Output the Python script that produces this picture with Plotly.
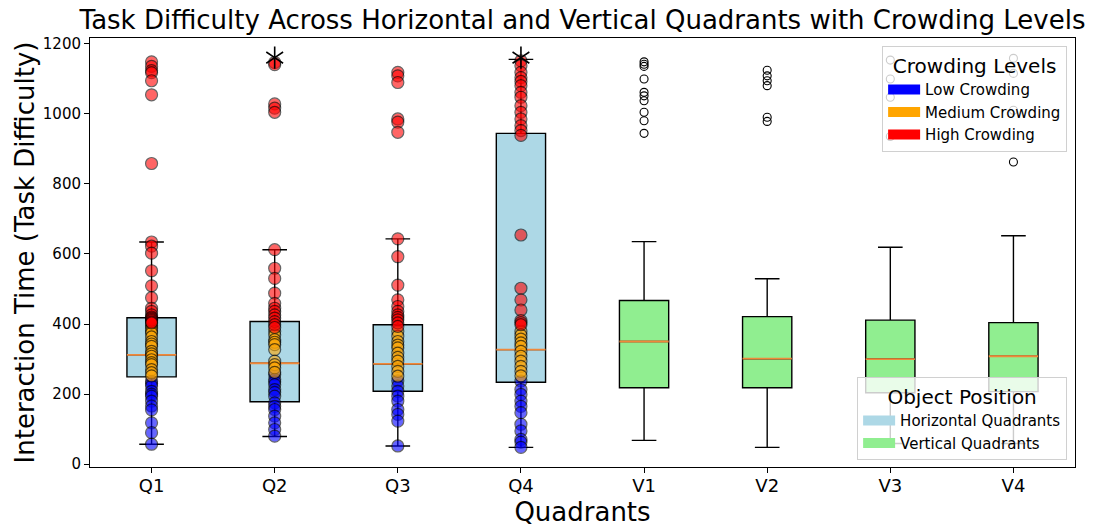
import plotly.graph_objects as go

# ---------------- data ----------------
categories = ["Q1", "Q2", "Q3", "Q4", "V1", "V2", "V3", "V4"]
positions = [1, 2, 3, 4, 5, 6, 7, 8]

box_q1 = [249, 178, 208, 234, 218, 218, 204, 207]
box_median = [312, 288, 286, 327, 350, 301, 300, 308]
box_q3 = [418, 407, 398, 944, 467, 421, 411, 404]
whisker_low = [57, 79, 52, 48, 68, 48, 59, 59]
whisker_high = [634, 612, 643, 1155, 635, 529, 619, 652]

# outliers (open circles) of the vertical quadrants
fliers_v1 = [1148, 1141, 1135, 1099, 1061, 1051, 1037, 1004, 980, 944]
fliers_v2 = [1124, 1108, 1094, 1080, 990, 978]
fliers_v3 = [1153, 1099, 1047, 935]
fliers_v4 = [1158, 1115, 1010, 862]

# individual observations in the horizontal quadrants, by crowding level
q1_low = [237, 230, 223, 208, 200, 194, 180, 166, 155, 118, 90, 57]
q1_medium = [395, 388, 380, 374, 363, 350, 343, 336, 322, 315, 308, 298, 290, 284, 270, 261, 252]
q1_high = [1148, 1135, 1123, 1117, 1094, 1054, 858, 634, 622, 602, 552, 509, 475, 445,
           436, 426, 420, 417, 413, 410, 406, 403]

q2_low = [256, 242, 235, 227, 213, 205, 194, 175, 165, 156, 137, 118, 99, 80]
q2_medium = [379, 369, 355, 348, 341, 327, 294, 284, 275, 262]
q2_high = [1146, 1140, 1028, 1016, 1004, 612, 559, 530, 488, 459, 445, 436, 426, 417,
           407, 398, 390]

q3_low = [238, 223, 208, 194, 180, 156, 142, 123, 52]
q3_medium = [379, 365, 350, 340, 332, 317, 305, 294, 279, 265, 251]
q3_high = [1118, 1108, 1089, 985, 976, 947, 643, 592, 511, 469, 450, 436, 426, 419,
           412, 403, 393]

q4_low = [237, 213, 199, 180, 165, 147, 114, 95, 71, 63, 48]
q4_medium = [379, 368, 357, 346, 336, 322, 308, 294, 279, 265, 252]
q4_high = [1151, 1137, 1118, 1103, 1092, 1080, 1061, 1047, 1023, 1004, 985, 966, 952,
           938, 654, 502, 469, 440, 410, 404, 398]

# significance markers
star_x = [2, 4]
star_y = [1160, 1160]

crowding_names = ["Low Crowding", "Medium Crowding", "High Crowding"]
crowding_colors = ["#0000ff", "#ffa500", "#ff0000"]
position_names = ["Horizontal Quadrants", "Vertical Quadrants"]
position_colors = ["#add8e6", "#90ee90"]

# ---------------- figure ----------------
fig = go.Figure()

BOX_W = 0.4
for sl, col in [(slice(0, 4), position_colors[0]), (slice(4, 8), position_colors[1])]:
    fig.add_trace(go.Box(
        x=positions[sl], q1=box_q1[sl], median=box_median[sl], q3=box_q3[sl],
        lowerfence=whisker_low[sl], upperfence=whisker_high[sl],
        fillcolor=col, line=dict(color="black", width=1.4),
        width=BOX_W, whiskerwidth=0.5, boxpoints=False,
        showlegend=False, hoverinfo="skip",
    ))

# medians in orange
mx, my = [], []
for p, m in zip(positions, box_median):
    mx += [p - BOX_W / 2, p + BOX_W / 2, None]
    my += [m, m, None]
fig.add_trace(go.Scatter(x=mx, y=my, mode="lines", line=dict(color="#f0883a", width=1.8),
                         showlegend=False, hoverinfo="skip"))

# fliers of vertical quadrants
fx, fy = [], []
for p, fl in zip(positions[4:], [fliers_v1, fliers_v2, fliers_v3, fliers_v4]):
    fx += [p] * len(fl)
    fy += fl
fig.add_trace(go.Scatter(x=fx, y=fy, mode="markers",
                         marker=dict(symbol="circle-open", size=8, color="black",
                                     line=dict(width=1.1)),
                         showlegend=False, hoverinfo="skip"))

# scatter of observations
groups = [
    (q1_low, q1_medium, q1_high),
    (q2_low, q2_medium, q2_high),
    (q3_low, q3_medium, q3_high),
    (q4_low, q4_medium, q4_high),
]
for level in range(3):
    sx, sy = [], []
    for p, g in zip(positions[:4], groups):
        sx += [p] * len(g[level])
        sy += g[level]
    fig.add_trace(go.Scatter(
        x=sx, y=sy, mode="markers",
        marker=dict(size=12, color=crowding_colors[level], opacity=0.6,
                    line=dict(color="black", width=1.2)),
        showlegend=False, hoverinfo="skip"))

# stars
for sym in ["y-up-open", "y-down-open"]:
    fig.add_trace(go.Scatter(x=star_x, y=star_y, mode="markers",
                             marker=dict(symbol=sym, size=14, color="black",
                                         line=dict(color="black", width=1.6)),
                             showlegend=False, hoverinfo="skip"))

# legend entries
for name, col in zip(crowding_names, crowding_colors):
    fig.add_trace(go.Scatter(x=[None], y=[None], mode="lines", name=name,
                             line=dict(color=col, width=12), legend="legend"))
for name, col in zip(position_names, position_colors):
    fig.add_trace(go.Scatter(x=[None], y=[None], mode="lines", name=name,
                             line=dict(color=col, width=12), legend="legend2"))

axis_common = dict(showline=True, mirror=True, linecolor="black", linewidth=1,
                   ticks="outside", ticklen=5, tickcolor="black", showgrid=False,
                   zeroline=False, automargin=False)

fig.update_layout(
    width=1095, height=527,
    margin=dict(l=90, r=20, t=38, b=60),
    plot_bgcolor="white", paper_bgcolor="white",
    font=dict(family="DejaVu Sans", color="black"),
    boxmode="overlay",
    title=dict(text="Task Difficulty Across Horizontal and Vertical Quadrants with Crowding Levels",
               x=0.5, xref="paper", xanchor="center",
               y=1 - 20 / 527, yref="container", yanchor="middle",
               font=dict(size=26)),
    xaxis=dict(range=[0.5, 8.5], tickvals=positions, ticktext=categories,
               tickfont=dict(size=18), ticklabelstandoff=-3,
               title=dict(text="Quadrants", font=dict(size=26), standoff=8),
               **axis_common),
    yaxis=dict(range=[-8, 1216], tickvals=[0, 200, 400, 600, 800, 1000, 1200],
               tickfont=dict(size=15),
               title=dict(text="Interaction Time (Task Difficulty)", font=dict(size=26), standoff=0),
               **axis_common),
    legend=dict(title=dict(text="Crowding Levels", font=dict(size=20), side="top center"),
                font=dict(size=15), x=0.992, y=0.981, xanchor="right", yanchor="top",
                bgcolor="rgba(255,255,255,0.8)", bordercolor="#d0d0d0", borderwidth=1,
                itemwidth=32),
    legend2=dict(title=dict(text="Object Position", font=dict(size=20), side="top center"),
                 font=dict(size=15), x=0.992, y=0.016, xanchor="right", yanchor="bottom",
                 bgcolor="rgba(255,255,255,0.8)", bordercolor="#d0d0d0", borderwidth=1,
                 itemwidth=32),
)

fig.write_html("out.html")
